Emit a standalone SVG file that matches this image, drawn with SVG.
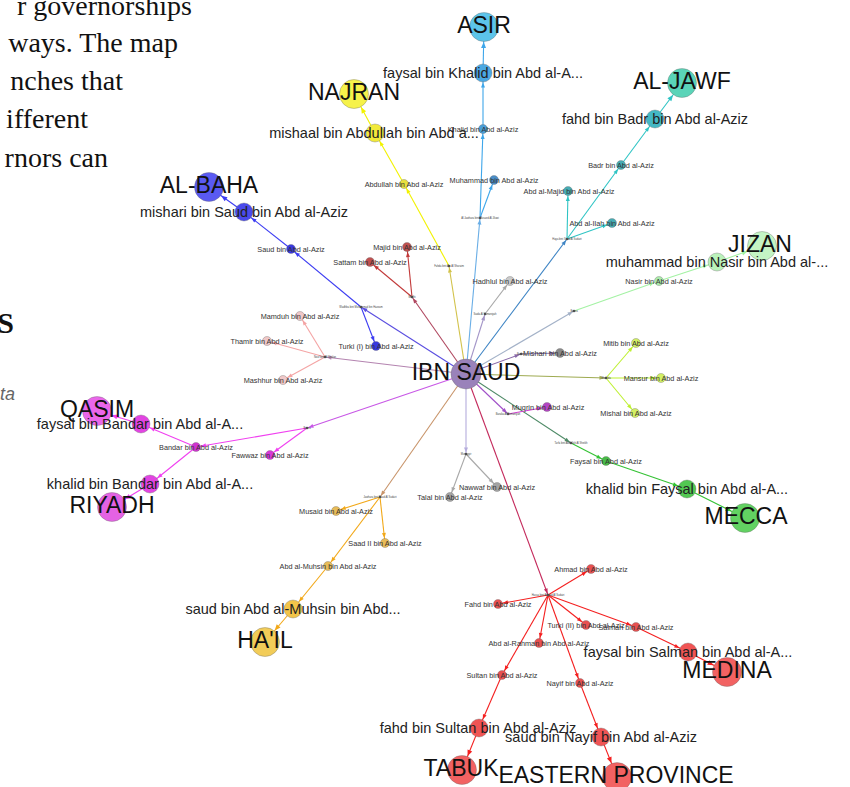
<svg xmlns="http://www.w3.org/2000/svg" width="850" height="787" viewBox="0 0 850 787">
<style>
.body{font-family:"Liberation Serif","Times New Roman",serif;font-size:28px;fill:#111}
.bold{font-family:"Liberation Serif","Times New Roman",serif;font-size:30px;font-weight:bold;fill:#111}
.ital{font-family:"Liberation Sans",Arial,sans-serif;font-size:18px;font-style:italic;fill:#666}
text.L{font-family:"Liberation Sans",Arial,sans-serif;font-size:23px;fill:#111;text-anchor:middle}
text.M{font-family:"Liberation Sans",Arial,sans-serif;font-size:14.5px;fill:#222;text-anchor:middle}
text.S{font-family:"Liberation Sans",Arial,sans-serif;font-size:7.3px;fill:#333;text-anchor:middle}
text.H{font-family:"Liberation Sans",Arial,sans-serif;font-size:2.6px;fill:#444;text-anchor:middle}
circle{stroke:#6a6a6a;stroke-width:0.6;stroke-opacity:0.6}
circle.hub{fill:#555;stroke:none}
#edges line{stroke-width:1.1;fill:none}
.lb{stroke:#3ea6ea}.y{stroke:#f2f200}.dr{stroke:#c23a3a}.b{stroke:#3c3cf2}.pk{stroke:#f4a4a4}
.mg{stroke:#f040f0}.or{stroke:#f2a818}.gy{stroke:#a8a8a8}.rd{stroke:#f42020}.gn{stroke:#34c234}
.lm{stroke:#bef030}.jz{stroke:#a4f2a4}.tl{stroke:#2ec4c4}.mq{stroke:#d040d0}
</style>
<defs>
<marker id="a1" viewBox="0 0 5 4" refX="6.5" refY="2" markerWidth="5" markerHeight="4" markerUnits="userSpaceOnUse" orient="auto" overflow="visible"><path d="M0,0L5,2L0,4z" fill="context-stroke"/></marker>
<marker id="a5" viewBox="0 0 5 4" refX="10" refY="2" markerWidth="5" markerHeight="4" markerUnits="userSpaceOnUse" orient="auto" overflow="visible"><path d="M0,0L5,2L0,4z" fill="context-stroke"/></marker>
<marker id="a9" viewBox="0 0 5 4" refX="14.5" refY="2" markerWidth="5" markerHeight="4" markerUnits="userSpaceOnUse" orient="auto" overflow="visible"><path d="M0,0L5,2L0,4z" fill="context-stroke"/></marker>
<marker id="a15" viewBox="0 0 6 5" refX="21" refY="2.5" markerWidth="6" markerHeight="5" markerUnits="userSpaceOnUse" orient="auto" overflow="visible"><path d="M0,0L6,2.5L0,5z" fill="context-stroke"/></marker>
</defs>
<rect width="850" height="787" fill="#fff"/>
<g id="page-text">
<text class="body" x="192" y="15" text-anchor="end">r governorships</text>
<text class="body" x="178" y="52" text-anchor="end">ways. The map</text>
<text class="body" x="123" y="90" text-anchor="end">nches that</text>
<text class="body" x="88" y="128" text-anchor="end">ifferent</text>
<text class="body" x="108" y="167" text-anchor="end">rnors can</text>
<text class="bold" x="14" y="333" text-anchor="end">S</text>
<text class="ital" x="15" y="400" text-anchor="end">ta</text>
</g>
<g id="edges">
<line x1="466" y1="374" x2="480" y2="218" stroke="#6aaee6" marker-end="url(#a1)"/>
<line x1="466" y1="374" x2="449" y2="266" stroke="#d2c24a" marker-end="url(#a1)"/>
<line x1="466" y1="374" x2="412" y2="297" stroke="#b04860" marker-end="url(#a1)"/>
<line x1="466" y1="374" x2="361" y2="307" stroke="#5a4ee0" marker-end="url(#a1)"/>
<line x1="466" y1="374" x2="325" y2="357" stroke="#b484b0" marker-end="url(#a1)"/>
<line x1="466" y1="374" x2="307" y2="428" stroke="#c858e6" marker-end="url(#a1)"/>
<line x1="466" y1="374" x2="380" y2="497" stroke="#c8946a" marker-end="url(#a1)"/>
<line x1="466" y1="374" x2="466" y2="454" stroke="#b4acdc" marker-end="url(#a1)"/>
<line x1="466" y1="374" x2="548" y2="595" stroke="#c42a5c" marker-end="url(#a1)"/>
<line x1="466" y1="374" x2="571" y2="443" stroke="#4e8a66" marker-end="url(#a1)"/>
<line x1="466" y1="374" x2="508" y2="414" stroke="#a050c8" marker-end="url(#a1)"/>
<line x1="466" y1="374" x2="606" y2="378" stroke="#9eaa50" marker-end="url(#a1)"/>
<line x1="466" y1="374" x2="521" y2="354" stroke="#8868a8" marker-end="url(#a1)"/>
<line x1="466" y1="374" x2="574" y2="311" stroke="#a4b2c8" marker-end="url(#a1)"/>
<line x1="466" y1="374" x2="485" y2="314" stroke="#a496c8" marker-end="url(#a1)"/>
<line x1="466" y1="374" x2="567" y2="239" stroke="#3e84c4" marker-end="url(#a1)"/>
<line class="lb" x1="480" y1="218" x2="483" y2="129" marker-end="url(#a5)"/>
<line class="lb" x1="480" y1="218" x2="494" y2="180" marker-end="url(#a5)"/>
<line class="lb" x1="483" y1="129" x2="483" y2="73" marker-end="url(#a9)"/>
<line class="lb" x1="483" y1="73" x2="484" y2="27" marker-end="url(#a15)"/>
<line class="y" x1="449" y1="266" x2="404" y2="184" marker-end="url(#a5)"/>
<line class="y" x1="404" y1="184" x2="375" y2="133" marker-end="url(#a9)"/>
<line class="y" x1="375" y1="133" x2="354" y2="94" marker-end="url(#a15)"/>
<line class="dr" x1="412" y1="297" x2="407" y2="247" marker-end="url(#a5)"/>
<line class="dr" x1="412" y1="297" x2="370" y2="262" marker-end="url(#a5)"/>
<line class="b" x1="361" y1="307" x2="291" y2="249" marker-end="url(#a5)"/>
<line class="b" x1="361" y1="307" x2="376" y2="346" marker-end="url(#a5)"/>
<line class="b" x1="291" y1="249" x2="244" y2="212" marker-end="url(#a9)"/>
<line class="b" x1="244" y1="212" x2="209" y2="187" marker-end="url(#a15)"/>
<line class="pk" x1="325" y1="357" x2="300" y2="316" marker-end="url(#a5)"/>
<line class="pk" x1="325" y1="357" x2="267" y2="341" marker-end="url(#a5)"/>
<line class="pk" x1="325" y1="357" x2="283" y2="380" marker-end="url(#a5)"/>
<line class="mg" x1="307" y1="428" x2="196" y2="447" marker-end="url(#a5)"/>
<line class="mg" x1="307" y1="428" x2="270" y2="455" marker-end="url(#a5)"/>
<line class="mg" x1="196" y1="447" x2="141" y2="424" marker-end="url(#a9)"/>
<line class="mg" x1="196" y1="447" x2="150" y2="484" marker-end="url(#a9)"/>
<line class="mg" x1="141" y1="424" x2="97" y2="411" marker-end="url(#a15)"/>
<line class="mg" x1="150" y1="484" x2="112" y2="507" marker-end="url(#a15)"/>
<line class="or" x1="380" y1="497" x2="336" y2="511" marker-end="url(#a5)"/>
<line class="or" x1="380" y1="497" x2="385" y2="543" marker-end="url(#a5)"/>
<line class="or" x1="380" y1="497" x2="328" y2="566" marker-end="url(#a5)"/>
<line class="or" x1="328" y1="566" x2="293" y2="609" marker-end="url(#a9)"/>
<line class="or" x1="293" y1="609" x2="265" y2="642" marker-end="url(#a15)"/>
<line class="gy" x1="466" y1="454" x2="450" y2="497" marker-end="url(#a5)"/>
<line class="gy" x1="466" y1="454" x2="497" y2="487" marker-end="url(#a5)"/>
<line class="rd" x1="548" y1="595" x2="591" y2="569" marker-end="url(#a5)"/>
<line class="rd" x1="548" y1="595" x2="498" y2="604" marker-end="url(#a5)"/>
<line class="rd" x1="548" y1="595" x2="586" y2="625" marker-end="url(#a5)"/>
<line class="rd" x1="548" y1="595" x2="636" y2="627" marker-end="url(#a5)"/>
<line class="rd" x1="548" y1="595" x2="539" y2="643" marker-end="url(#a5)"/>
<line class="rd" x1="548" y1="595" x2="502" y2="675" marker-end="url(#a5)"/>
<line class="rd" x1="548" y1="595" x2="580" y2="683" marker-end="url(#a5)"/>
<line class="rd" x1="636" y1="627" x2="688" y2="652" marker-end="url(#a9)"/>
<line class="rd" x1="688" y1="652" x2="727" y2="672" marker-end="url(#a15)"/>
<line class="rd" x1="502" y1="675" x2="479" y2="728" marker-end="url(#a9)"/>
<line class="rd" x1="479" y1="728" x2="462" y2="770" marker-end="url(#a15)"/>
<line class="rd" x1="580" y1="683" x2="601" y2="737" marker-end="url(#a9)"/>
<line class="rd" x1="601" y1="737" x2="617" y2="777" marker-end="url(#a15)"/>
<line class="gn" x1="571" y1="443" x2="606" y2="461" marker-end="url(#a5)"/>
<line class="gn" x1="606" y1="461" x2="687" y2="489" marker-end="url(#a9)"/>
<line class="gn" x1="687" y1="489" x2="745" y2="518" marker-end="url(#a15)"/>
<line class="mq" x1="508" y1="414" x2="547" y2="407" marker-end="url(#a5)"/>
<line class="lm" x1="606" y1="378" x2="636" y2="343" marker-end="url(#a5)"/>
<line class="lm" x1="606" y1="378" x2="661" y2="378" marker-end="url(#a5)"/>
<line class="lm" x1="606" y1="378" x2="635" y2="413" marker-end="url(#a5)"/>
<line x1="521" y1="354" x2="560" y2="353" stroke="#8870a8" marker-end="url(#a5)"/>
<line class="jz" x1="574" y1="311" x2="659" y2="281" marker-end="url(#a5)"/>
<line class="jz" x1="659" y1="281" x2="717" y2="262" marker-end="url(#a9)"/>
<line class="jz" x1="717" y1="262" x2="762" y2="246" marker-end="url(#a15)"/>
<line class="gy" x1="485" y1="314" x2="510" y2="281" marker-end="url(#a5)"/>
<line class="tl" x1="567" y1="239" x2="568" y2="191" marker-end="url(#a5)"/>
<line class="tl" x1="567" y1="239" x2="612" y2="223" marker-end="url(#a5)"/>
<line class="tl" x1="567" y1="239" x2="621" y2="165" marker-end="url(#a5)"/>
<line class="tl" x1="621" y1="165" x2="655" y2="119" marker-end="url(#a9)"/>
<line class="tl" x1="655" y1="119" x2="682" y2="83" marker-end="url(#a15)"/>
</g>
<g id="provinces">
<g id="n-asir"><circle cx="484" cy="27" r="14.5" fill="#5cc4ea"/><text class="L" x="484" y="32.5">ASIR</text></g>
<g id="n-najran"><circle cx="354" cy="94" r="14.5" fill="#f6f24a"/><text class="L" x="354" y="99.5">NAJRAN</text></g>
<g id="n-al-jawf"><circle cx="682" cy="83" r="14.5" fill="#5ad4b8"/><text class="L" x="682" y="88.5">AL-JAWF</text></g>
<g id="n-jizan"><circle cx="762" cy="246" r="14.5" fill="#c4f4c4"/><text class="L" x="760" y="251.5">JIZAN</text></g>
<g id="n-al-baha"><circle cx="209" cy="187" r="14.5" fill="#5a5af2"/><text class="L" x="209" y="192.5">AL-BAHA</text></g>
<g id="n-qasim"><circle cx="97" cy="411" r="14.5" fill="#ea66ea"/><text class="L" x="97" y="416.5">QASIM</text></g>
<g id="n-riyadh"><circle cx="112" cy="507" r="14.5" fill="#e462e4"/><text class="L" x="112" y="512.5">RIYADH</text></g>
<g id="n-hail"><circle cx="265" cy="642" r="14.5" fill="#f2cc58"/><text class="L" x="265" y="647.5">HA'IL</text></g>
<g id="n-mecca"><circle cx="745" cy="518" r="14.5" fill="#62d262"/><text class="L" x="746" y="523.5">MECCA</text></g>
<g id="n-medina"><circle cx="727" cy="672" r="14.5" fill="#f26262"/><text class="L" x="727" y="677.5">MEDINA</text></g>
<g id="n-tabuk"><circle cx="462" cy="770" r="14.5" fill="#f26262"/><text class="L" x="461" y="775.5">TABUK</text></g>
<g id="n-eastern"><circle cx="617" cy="777" r="14.5" fill="#f26262"/><text class="L" x="616" y="782.5">EASTERN PROVINCE</text></g>
</g>
<g id="sons">
<g id="n-khalid"><circle cx="483" cy="129" r="4.5" fill="#4a9ed8"/><text class="S" x="483" y="131.6">Khalid bin Abd al-Aziz</text></g>
<g id="n-muhammad"><circle cx="494" cy="180" r="4.5" fill="#4a8ec8"/><text class="S" x="494" y="182.6">Muhammad bin Abd al-Aziz</text></g>
<g id="n-abdullah"><circle cx="404" cy="184" r="4.5" fill="#e8e040"/><text class="S" x="404" y="186.6">Abdullah bin Abd al-Aziz</text></g>
<g id="n-majid"><circle cx="407" cy="247" r="4.5" fill="#c05050"/><text class="S" x="407" y="249.6">Majid bin Abd al-Aziz</text></g>
<g id="n-sattam"><circle cx="370" cy="262" r="4.5" fill="#c05050"/><text class="S" x="370" y="264.6">Sattam bin Abd al-Aziz</text></g>
<g id="n-saud"><circle cx="291" cy="249" r="4.5" fill="#3838e0"/><text class="S" x="291" y="251.6">Saud bin Abd al-Aziz</text></g>
<g id="n-turki1"><circle cx="376" cy="346" r="4.5" fill="#3838e0"/><text class="S" x="376" y="348.6">Turki (I) bin Abd al-Aziz</text></g>
<g id="n-mamduh"><circle cx="300" cy="316" r="4.5" fill="#f0c8c8"/><text class="S" x="300" y="318.6">Mamduh bin Abd al-Aziz</text></g>
<g id="n-thamir"><circle cx="267" cy="341" r="4.5" fill="#f0c8c8"/><text class="S" x="267" y="343.6">Thamir bin Abd al-Aziz</text></g>
<g id="n-mashhur"><circle cx="283" cy="380" r="4.5" fill="#f0c8c8"/><text class="S" x="283" y="382.6">Mashhur bin Abd al-Aziz</text></g>
<g id="n-bandar"><circle cx="196" cy="447" r="4.5" fill="#d034d0"/><text class="S" x="196" y="449.6">Bandar bin Abd al-Aziz</text></g>
<g id="n-fawwaz"><circle cx="270" cy="455" r="4.5" fill="#d838d8"/><text class="S" x="270" y="457.6">Fawwaz bin Abd al-Aziz</text></g>
<g id="n-musaid"><circle cx="336" cy="511" r="4.5" fill="#e8bc58"/><text class="S" x="336" y="513.6">Musaid bin Abd al-Aziz</text></g>
<g id="n-saad2"><circle cx="385" cy="543" r="4.5" fill="#e8bc58"/><text class="S" x="385" y="545.6">Saad II bin Abd al-Aziz</text></g>
<g id="n-muhsin"><circle cx="328" cy="566" r="4.5" fill="#e8bc58"/><text class="S" x="328" y="568.6">Abd al-Muhsin bin Abd al-Aziz</text></g>
<g id="n-talal"><circle cx="450" cy="497" r="4.5" fill="#a4a4a4"/><text class="S" x="450" y="499.6">Talal bin Abd al-Aziz</text></g>
<g id="n-nawwaf"><circle cx="497" cy="487" r="4.5" fill="#a4a4a4"/><text class="S" x="497" y="489.6">Nawwaf bin Abd al-Aziz</text></g>
<g id="n-ahmad"><circle cx="591" cy="569" r="4.5" fill="#e85050"/><text class="S" x="591" y="571.6">Ahmad bin Abd al-Aziz</text></g>
<g id="n-fahd"><circle cx="498" cy="604" r="4.5" fill="#e85050"/><text class="S" x="498" y="606.6">Fahd bin Abd al-Aziz</text></g>
<g id="n-turki2"><circle cx="586" cy="625" r="4.5" fill="#e85050"/><text class="S" x="586" y="627.6">Turki (II) bin Abd al-Aziz</text></g>
<g id="n-salman"><circle cx="636" cy="627" r="4.5" fill="#e85050"/><text class="S" x="636" y="629.6">Salman bin Abd al-Aziz</text></g>
<g id="n-abdrahman"><circle cx="539" cy="643" r="4.5" fill="#e85050"/><text class="S" x="539" y="645.6">Abd al-Rahman bin Abd al-Aziz</text></g>
<g id="n-sultan"><circle cx="502" cy="675" r="4.5" fill="#e85050"/><text class="S" x="502" y="677.6">Sultan bin Abd al-Aziz</text></g>
<g id="n-nayif"><circle cx="580" cy="683" r="4.5" fill="#e85050"/><text class="S" x="580" y="685.6">Nayif bin Abd al-Aziz</text></g>
<g id="n-faysal"><circle cx="606" cy="461" r="4.5" fill="#48bc48"/><text class="S" x="606" y="463.6">Faysal bin Abd al-Aziz</text></g>
<g id="n-muqrin"><circle cx="547" cy="407" r="4.5" fill="#b444c4"/><text class="S" x="548" y="409.6">Muqrin bin Abd al-Aziz</text></g>
<g id="n-mitib"><circle cx="636" cy="343" r="4.5" fill="#d2f064"/><text class="S" x="636" y="345.6">Mitib bin Abd al-Aziz</text></g>
<g id="n-mansur"><circle cx="661" cy="378" r="4.5" fill="#d2f064"/><text class="S" x="661" y="380.6">Mansur bin Abd al-Aziz</text></g>
<g id="n-mishal"><circle cx="635" cy="413" r="4.5" fill="#d2f064"/><text class="S" x="636" y="415.6">Mishal bin Abd al-Aziz</text></g>
<g id="n-mishari"><circle cx="560" cy="353" r="4.5" fill="#8a8a8a"/><text class="S" x="560" y="355.6">Mishari bin Abd al-Aziz</text></g>
<g id="n-nasir"><circle cx="659" cy="281" r="4.5" fill="#acecac"/><text class="S" x="659" y="283.6">Nasir bin Abd al-Aziz</text></g>
<g id="n-hadhlul"><circle cx="510" cy="281" r="4.5" fill="#cacaca"/><text class="S" x="510" y="283.6">Hadhlul bin Abd al-Aziz</text></g>
<g id="n-abdmajid"><circle cx="568" cy="191" r="4.5" fill="#46acb4"/><text class="S" x="569" y="193.6">Abd al-Majid bin Abd al-Aziz</text></g>
<g id="n-abdilah"><circle cx="612" cy="223" r="4.5" fill="#46acb4"/><text class="S" x="612" y="225.6">Abd al-Ilah bin Abd al-Aziz</text></g>
<g id="n-badr"><circle cx="621" cy="165" r="4.5" fill="#46acb4"/><text class="S" x="621" y="167.6">Badr bin Abd al-Aziz</text></g>
</g>
<g id="governors">
<g id="n-faysal-khalid"><circle cx="483" cy="73" r="9" fill="#4aa8e2"/><text class="M" x="483" y="77.5">faysal bin Khalid bin Abd al-A...</text></g>
<g id="n-mishaal-abdullah"><circle cx="375" cy="133" r="9" fill="#f2ea3a"/><text class="M" x="374" y="137.5">mishaal bin Abdullah bin Abd a...</text></g>
<g id="n-fahd-badr"><circle cx="655" cy="119" r="9" fill="#44b8c4"/><text class="M" x="655" y="123.5">fahd bin Badr bin Abd al-Aziz</text></g>
<g id="n-muhammad-nasir"><circle cx="717" cy="262" r="9" fill="#baf2ba"/><text class="M" x="717" y="266.5">muhammad bin Nasir bin Abd al-...</text></g>
<g id="n-mishari-saud"><circle cx="244" cy="212" r="9" fill="#4a4aec"/><text class="M" x="244" y="216.5">mishari bin Saud bin Abd al-Aziz</text></g>
<g id="n-faysal-bandar"><circle cx="141" cy="424" r="9" fill="#e244e2"/><text class="M" x="140" y="428.5">faysal bin Bandar bin Abd al-A...</text></g>
<g id="n-khalid-bandar"><circle cx="150" cy="484" r="9" fill="#e244e2"/><text class="M" x="150" y="488.5">khalid bin Bandar bin Abd al-A...</text></g>
<g id="n-saud-muhsin"><circle cx="293" cy="609" r="9" fill="#f2c44a"/><text class="M" x="293" y="613.5">saud bin Abd al-Muhsin bin Abd...</text></g>
<g id="n-khalid-faysal"><circle cx="687" cy="489" r="9" fill="#52c852"/><text class="M" x="687" y="493.5">khalid bin Faysal bin Abd al-A...</text></g>
<g id="n-faysal-salman"><circle cx="688" cy="652" r="9" fill="#f05454"/><text class="M" x="688" y="656.5">faysal bin Salman bin Abd al-A...</text></g>
<g id="n-fahd-sultan"><circle cx="479" cy="728" r="9" fill="#f05454"/><text class="M" x="478" y="732.5">fahd bin Sultan bin Abd al-Aziz</text></g>
<g id="n-saud-nayif"><circle cx="601" cy="737" r="9" fill="#f05454"/><text class="M" x="601" y="741.5">saud bin Nayif bin Abd al-Aziz</text></g>
</g>
<g id="hubs">
<g id="h-1"><circle class="hub" cx="480" cy="218" r="1.3"/><text class="H" x="480" y="219">Al Jawhara bint Musaed Al Jiluwi</text></g>
<g id="h-2"><circle class="hub" cx="449" cy="266" r="1.3"/><text class="H" x="449" y="267">Fahda bint Asi Al Shuraim</text></g>
<g id="h-3"><circle class="hub" cx="412" cy="297" r="1.3"/><text class="H" x="412" y="298">Mudhi</text></g>
<g id="h-4"><circle class="hub" cx="361" cy="307" r="1.3"/><text class="H" x="361" y="308">Wadhba bint Muhammad bin Hazzam</text></g>
<g id="h-5"><circle class="hub" cx="325" cy="357" r="1.3"/><text class="H" x="325" y="358">Nouf bint Al Shalan</text></g>
<g id="h-6"><circle class="hub" cx="307" cy="428" r="1.3"/><text class="H" x="307" y="429">Bazza</text></g>
<g id="h-7"><circle class="hub" cx="380" cy="497" r="1.3"/><text class="H" x="380" y="498">Jawhara bint Saad Al Sudairi</text></g>
<g id="h-8"><circle class="hub" cx="466" cy="454" r="1.3"/><text class="H" x="466" y="455">Munayyir</text></g>
<g id="h-9"><circle class="hub" cx="548" cy="595" r="1.3"/><text class="H" x="548" y="596">Hassa bint Ahmad Al Sudairi</text></g>
<g id="h-10"><circle class="hub" cx="571" cy="443" r="1.3"/><text class="H" x="571" y="444">Tarfa bint Abdullah Al Sheikh</text></g>
<g id="h-11"><circle class="hub" cx="508" cy="414" r="1.3"/><text class="H" x="508" y="415">Baraka Al Yamaniyah</text></g>
<g id="h-12"><circle class="hub" cx="606" cy="378" r="1.3"/><text class="H" x="606" y="379">Shahida</text></g>
<g id="h-13"><circle class="hub" cx="521" cy="354" r="1.3"/><text class="H" x="521" y="355">Bushra</text></g>
<g id="h-14"><circle class="hub" cx="574" cy="311" r="1.3"/><text class="H" x="574" y="312">Bazza</text></g>
<g id="h-15"><circle class="hub" cx="485" cy="314" r="1.3"/><text class="H" x="485" y="315">Saida Al Yamaniyah</text></g>
<g id="h-16"><circle class="hub" cx="567" cy="239" r="1.3"/><text class="H" x="567" y="240">Haya bint Saad Al Sudairi</text></g>
</g>
<g id="n-ibn-saud"><circle cx="466" cy="374" r="15" fill="#9a82ba"/><text class="L" x="466" y="380">IBN SAUD</text></g>
</svg>
